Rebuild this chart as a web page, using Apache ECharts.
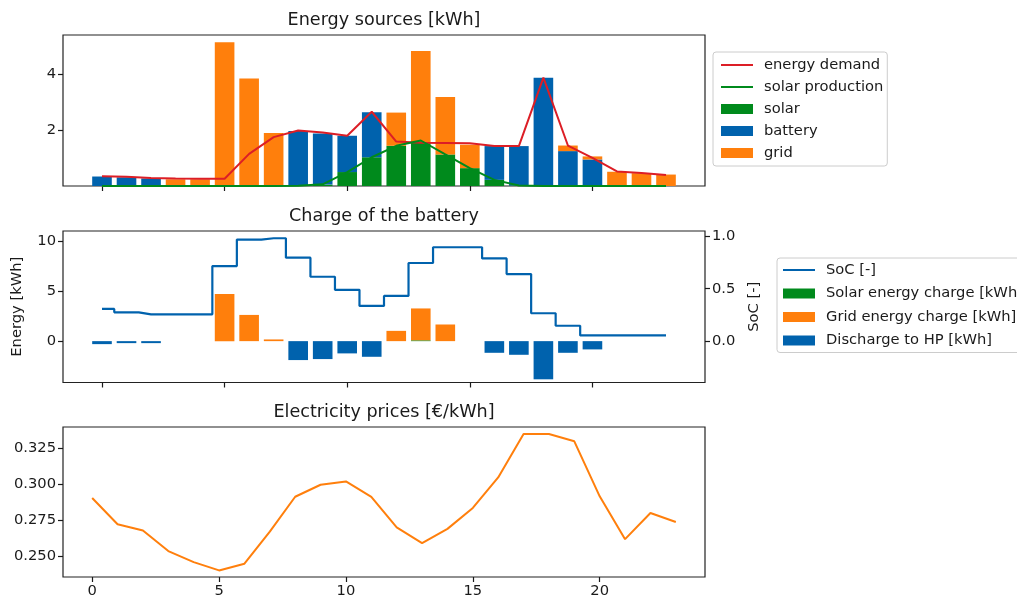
<!DOCTYPE html>
<html>
<head>
<meta charset="utf-8">
<script src="https://cdn.jsdelivr.net/npm/echarts@6/dist/echarts.min.js"></script>
<style>html,body{margin:0;padding:0;background:#fff}#c{width:1017px;height:604px}</style>
</head>
<body>
<div id="c"></div>
<script>
// ---- data ----
const hours = [0,1,2,3,4,5,6,7,8,9,10,11,12,13,14,15,16,17,18,19,20,21,22,23];
const energyDemand = [0.35,0.33,0.29,0.27,0.26,0.26,1.15,1.75,1.99,1.92,1.80,2.66,1.59,1.55,1.54,1.53,1.43,1.43,3.88,1.45,1.01,0.52,0.47,0.39];
const solarProduction = [0,0,0,0,0,0,0,0,0.01,0.06,0.50,1.03,1.44,1.63,1.13,0.64,0.22,0.02,0,0,0,0,0,0];
const solarUse   = [0,0,0,0,0,0,0,0,0.01,0.05,0.50,1.03,1.44,1.55,1.13,0.64,0.22,0.02,0,0,0,0,0,0];
const batteryUse = [0.34,0.31,0.27,0,0,0,0,0,1.96,1.83,1.30,1.61,0,0,0,0,1.21,1.41,3.88,1.25,0.95,0,0,0];
const gridUse    = [0,0,0,0.24,0.24,5.15,3.85,1.90,0,0,0,0,1.19,3.29,2.06,0.84,0,0,0,0.20,0.11,0.51,0.46,0.41];
const soc = [0.307,0.275,0.256,0.256,0.256,0.716,0.968,0.981,0.796,0.614,0.489,0.336,0.431,0.745,0.895,0.895,0.789,0.639,0.266,0.147,0.055,0.055,0.055,0.055];
const solarCharge = [0,0,0,0,0,0,0,0,0,0,0,0,0,0.08,0,0,0,0,0,0,0,0,0,0];
const gridCharge  = [0,0,0,0,0,4.73,2.63,0.17,0,0,0,0,1.03,3.20,1.67,0,0,0,0,0,0,0,0,0];
const discharge   = [-0.30,-0.20,-0.20,0,0,0,0,0,-1.90,-1.80,-1.23,-1.57,0,0,0,0,-1.17,-1.37,-3.83,-1.17,-0.83,0,0,0];
const price = [0.2905,0.2722,0.2678,0.2535,0.2458,0.2400,0.2447,0.2671,0.2914,0.2998,0.3021,0.2914,0.2701,0.2590,0.2690,0.2836,0.3049,0.3352,0.3352,0.3301,0.2917,0.2618,0.2801,0.2738];
const xTicks = [0,5,10,15,20];
const yTicksTop = [2,4];
const yTicksEnergy = [0,5,10];
const yTicksSoc = [0,0.5,1.0];
const yTicksPrice = [0.250,0.275,0.300,0.325];

// ---- style ----
const FONT = 'DejaVu Sans';
const TXT = '#1a1a1a';
const BLUE = '#0062ad', ORANGE = '#ff7f0c', GREEN = '#008a1c', RED = '#dc1e26';
const FS = 14.7;
const GL = 63, GW = 642;
const topRange = [-1.59, 24.59];
const BW = 0.8 * GW / (topRange[1] - topRange[0]);

const pair = arr => hours.map((h, i) => [h, arr[i]]);
// value first so that the stacked dimension is the y value
const barPair = arr => hours.map((h, i) => [arr[i], h]);
const tickStyle = {show: true, length: 5, lineStyle: {color: TXT, width: 1.2}};

function xAx(gi, min, max, labels) {
  return {
    type: 'value', gridIndex: gi, min: min, max: max,
    axisLine: {show: false, onZero: false}, splitLine: {show: false},
    axisTick: Object.assign({customValues: xTicks}, tickStyle),
    axisLabel: {show: labels, customValues: xTicks, margin: 7, color: TXT, fontSize: FS, fontFamily: FONT}
  };
}
function yAx(gi, min, max, ticks, fmt, extra) {
  return Object.assign({
    type: 'value', gridIndex: gi, min: min, max: max,
    axisLine: {show: false, onZero: false}, splitLine: {show: false},
    axisTick: Object.assign({customValues: ticks}, tickStyle),
    axisLabel: {customValues: ticks, margin: 7, color: TXT, fontSize: FS, fontFamily: FONT,
      formatter: fmt}
  }, extra || {});
}
const gridBase = {show: true, borderColor: '#222', borderWidth: 1.2, backgroundColor: 'transparent'};

const legendBase = {
  orient: 'vertical', backgroundColor: '#fff', borderColor: '#cccccc', borderWidth: 1, borderRadius: 3,
  itemWidth: 32, itemHeight: 10, selectedMode: false,
  textStyle: {color: TXT, fontSize: FS, fontFamily: FONT, lineHeight: 16, padding: [0, 0, 0, 6]}
};
const noSym = {opacity: 0};

function barS(name, xi, yi, stack, arr, color) {
  return {type: 'bar', name: name, xAxisIndex: xi, yAxisIndex: yi, stack: stack, barWidth: BW,
    encode: {x: 1, y: 0}, data: barPair(arr), itemStyle: {color: color}};
}

const option = {
  animation: false,
  backgroundColor: '#fff',
  grid: [
    Object.assign({left: GL, top: 35, width: GW, height: 151}, gridBase),
    Object.assign({left: GL, top: 231, width: GW, height: 151.5}, gridBase),
    Object.assign({left: GL, top: 427, width: GW, height: 150}, gridBase)
  ],
  xAxis: [
    xAx(0, topRange[0], topRange[1], false),
    xAx(1, topRange[0], topRange[1], false),
    xAx(2, -1.15, 24.15, true)
  ],
  yAxis: [
    yAx(0, 0, 5.41, yTicksTop, v => String(v)),
    yAx(1, -4.15, 11.05, yTicksEnergy, v => String(v), {
      name: 'Energy [kWh]', nameLocation: 'middle', nameGap: 38, nameRotate: 90,
      nameTextStyle: {color: TXT, fontSize: FS, fontFamily: FONT}
    }),
    yAx(1, -0.394, 1.05, yTicksSoc, v => v.toFixed(1), {
      position: 'right',
      name: 'SoC [-]', nameLocation: 'middle', nameGap: 40, nameRotate: 90,
      nameTextStyle: {color: TXT, fontSize: FS, fontFamily: FONT}
    }),
    yAx(2, 0.2354, 0.3401, yTicksPrice, v => v.toFixed(3))
  ],
  legend: [
    Object.assign({left: 713, top: 52, padding: [5, 4, 5, 7], itemGap: 6,
      data: [{name: 'energy demand', itemStyle: noSym}, {name: 'solar production', itemStyle: noSym},
             {name: 'solar', icon: 'rect'}, {name: 'battery', icon: 'rect'}, {name: 'grid', icon: 'rect'}]
    }, legendBase),
    Object.assign({left: 777, top: 258, padding: [4, 4, 4, 5], itemGap: 7.5,
      data: [{name: 'SoC [-]', itemStyle: noSym}, {name: 'Solar energy charge [kWh]', icon: 'rect'},
             {name: 'Grid energy charge [kWh]', icon: 'rect'}, {name: 'Discharge to HP [kWh]', icon: 'rect'}]
    }, legendBase)
  ],
  graphic: [
    {type: 'text', x: GL + GW / 2, y: 20, style: {text: 'Energy sources [kWh]', fill: TXT, font: '17.6px "DejaVu Sans"', textAlign: 'center', textVerticalAlign: 'middle'}},
    {type: 'text', x: GL + GW / 2, y: 216, style: {text: 'Charge of the battery', fill: TXT, font: '17.6px "DejaVu Sans"', textAlign: 'center', textVerticalAlign: 'middle'}},
    {type: 'text', x: GL + GW / 2, y: 412, style: {text: 'Electricity prices [€/kWh]', fill: TXT, font: '17.6px "DejaVu Sans"', textAlign: 'center', textVerticalAlign: 'middle'}}
  ],
  series: [
    barS('solar', 0, 0, 'src', solarUse, GREEN),
    barS('battery', 0, 0, 'src', batteryUse, BLUE),
    barS('grid', 0, 0, 'src', gridUse, ORANGE),
    {type: 'line', name: 'energy demand', xAxisIndex: 0, yAxisIndex: 0, data: pair(energyDemand), symbol: 'none', z: 5,
      lineStyle: {color: RED, width: 2}, itemStyle: {color: RED}},
    {type: 'line', name: 'solar production', xAxisIndex: 0, yAxisIndex: 0, data: pair(solarProduction), symbol: 'none', z: 5,
      lineStyle: {color: GREEN, width: 2}, itemStyle: {color: GREEN}},

    barS('Solar energy charge [kWh]', 1, 1, 'chg', solarCharge, GREEN),
    barS('Grid energy charge [kWh]', 1, 1, 'chg', gridCharge, ORANGE),
    barS('Discharge to HP [kWh]', 1, 1, 'chg', discharge, BLUE),
    {type: 'line', name: 'SoC [-]', xAxisIndex: 1, yAxisIndex: 2, step: 'middle', data: pair(soc), symbol: 'none', z: 5,
      lineStyle: {color: BLUE, width: 2.2}, itemStyle: {color: BLUE}},

    {type: 'line', name: 'price', xAxisIndex: 2, yAxisIndex: 3, data: pair(price), symbol: 'none',
      lineStyle: {color: ORANGE, width: 2}, itemStyle: {color: ORANGE}}
  ]
};
const chart = echarts.init(document.getElementById('c'));
chart.setOption(option);
</script>
</body>
</html>
